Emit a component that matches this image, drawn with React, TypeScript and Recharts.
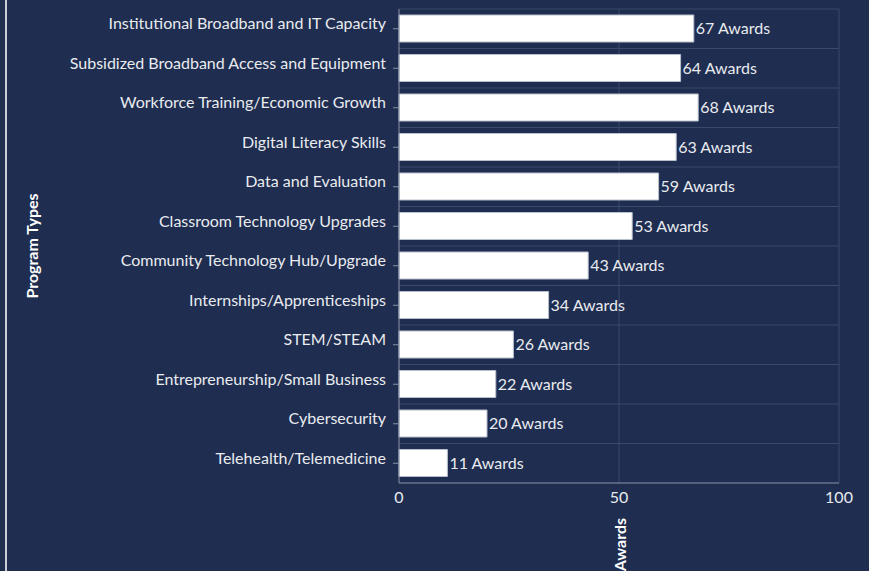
import { BarChart, Bar, XAxis, YAxis, CartesianGrid, LabelList } from "recharts";

const programTypes = [
  "Institutional Broadband and IT Capacity",
  "Subsidized Broadband Access and Equipment",
  "Workforce Training/Economic Growth",
  "Digital Literacy Skills",
  "Data and Evaluation",
  "Classroom Technology Upgrades",
  "Community Technology Hub/Upgrade",
  "Internships/Apprenticeships",
  "STEM/STEAM",
  "Entrepreneurship/Small Business",
  "Cybersecurity",
  "Telehealth/Telemedicine",
];
const awards = [67, 64, 68, 63, 59, 53, 43, 34, 26, 22, 20, 11];
const xTicks = [0, 50, 100];

const data = programTypes.map((name, i) => ({ name, awards: awards[i] }));

const BG = "#1e2d50";
const GRID = "#3b4a6b";
const TEXT = "#e9ebef";
const FONT = "Lato, 'Open Sans', sans-serif";

const YTitle = (props: any) => {
  const { viewBox } = props;
  const x = 31;
  const y = viewBox.y + viewBox.height / 2;
  return (
    <text
      x={x}
      y={y}
      transform={`rotate(-90 ${x} ${y})`}
      textAnchor="middle"
      dominantBaseline="central"
      fill="#ffffff"
      fontSize={16}
      fontWeight={700}
      fontFamily={FONT}
    >
      Program Types
    </text>
  );
};

const XTitle = (props: any) => {
  const { viewBox } = props;
  const x = viewBox.x + viewBox.width / 2;
  const y = 518;
  return (
    <text
      x={x}
      y={y}
      transform={`rotate(-90 ${x} ${y})`}
      textAnchor="end"
      dominantBaseline="central"
      fill="#ffffff"
      fontSize={16}
      fontWeight={700}
      fontFamily={FONT}
    >
      Awards
    </text>
  );
};

export default function App() {
  return (
    <div
      style={{
        position: "absolute",
        left: 0,
        top: 0,
        width: 869,
        height: 571,
        background: BG,
        overflow: "hidden",
      }}
    >
      <div
        style={{ position: "absolute", left: 5, top: 0, width: 1.5, height: 571, background: "#c9cdd6" }}
      />
      <BarChart
        layout="vertical"
        width={869}
        height={571}
        data={data}
        margin={{ top: 9, right: 30, left: 0, bottom: 0 }}
        barCategoryGap={0}
        style={{ fontFamily: FONT }}
      >
        <CartesianGrid
          stroke={GRID}
          strokeWidth={1}
          horizontalCoordinatesGenerator={({ offset }: any) =>
            programTypes.map((_, i) => offset.top + (i * offset.height) / programTypes.length)
          }
          verticalValues={[50, 100]}
        />
        <XAxis
          type="number"
          domain={[0, 100]}
          ticks={xTicks}
          height={88}
          tick={{ fill: TEXT, fontSize: 16 }}
          tickLine={false}
          tickMargin={3}
          axisLine={{ stroke: "#8a93a8" }}
          label={<XTitle />}
        />
        <YAxis
          type="category"
          dataKey="name"
          width={399}
          tick={{ fill: TEXT, fontSize: 16, dy: -5 }}
          tickLine={{ stroke: "#8a93a8" }}
          tickSize={6}
          tickMargin={7}
          axisLine={{ stroke: "#8a93a8" }}
          interval={0}
          label={<YTitle />}
        />
        <Bar
          dataKey="awards"
          fill="#ffffff"
          stroke="#b8bfcc"
          strokeWidth={1}
          barSize={27}
          isAnimationActive={false}
        >
          <LabelList
            dataKey="awards"
            position="right"
            offset={2}
            formatter={(v: any) => `${v} Awards`}
            fill={TEXT}
            fontSize={16}
          />
        </Bar>
      </BarChart>
    </div>
  );
}
